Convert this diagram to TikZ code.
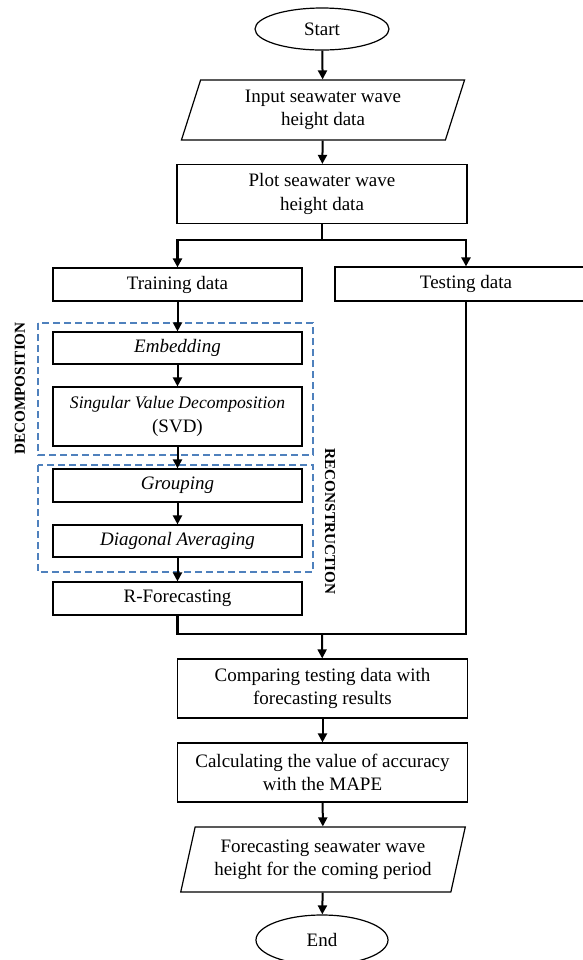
\documentclass[tikz,border=0pt]{standalone}
\usepackage{fontspec}
\setmainfont{Liberation Serif}
\usetikzlibrary{arrows.meta,shapes.geometric}
\definecolor{PhaseBlue}{HTML}{4F81BD}

\begin{document}
\begin{tikzpicture}[
      x=0.5pt,y=-0.5pt,
      every node/.style={font=\fontsize{9.5}{11.7}\selectfont},
      terminal/.style={ellipse,draw,semithick,minimum width=67pt,
        minimum height=21pt,inner sep=0pt},
      process/.style={rectangle,draw,semithick,minimum width=145pt,
        minimum height=29.5pt,align=center,inner sep=0pt},
      branch/.style={rectangle,draw,semithick,minimum width=124.5pt,
        minimum height=16.5pt,align=center,inner sep=0pt},
      substep/.style={branch,font=\fontsize{9.5}{11.7}\selectfont\itshape},
      dataio/.style={trapezium,trapezium left angle=73,
        trapezium right angle=107,trapezium stretches=true,draw,semithick,
        minimum width=142.5pt,minimum height=30pt,align=center,inner sep=0pt},
      flow/.style={-{Triangle[length=4.5pt,width=4.5pt]},line width=1pt},
      trunk/.style={line width=1.4pt},
      phase/.style={draw=PhaseBlue,line width=0.65pt,
        dash pattern=on 3.5pt off 2pt},
      phaselabel/.style={font=\fontsize{7.6}{9}\selectfont\bfseries,
        inner sep=0pt}
    ]
      \useasboundingbox (0,0) rectangle (583,960);

      % dashed phase frames
      \draw[phase] (38,323) rectangle (313,455);
      \draw[phase] (38,465) rectangle (313,572);
      \node[phaselabel,rotate=90] (declabel) at (20,388.5) {DECOMPOSITION};
      \node[phaselabel,rotate=-90] (reclabel) at (330,521.5) {RECONSTRUCTION};

      \node[terminal] (start) at (322,29) {\raisebox{-1pt}{Start}};
      \node[dataio] (input) at (323,110) {Input seawater wave\\height data};
      \node[process] (plot) at (322,194) {Plot seawater wave\\height data};
      \coordinate (split) at (322,240);

      \node[branch] (train) at (177.5,284.5) {Training data};
      \node[branch,minimum width=131pt,minimum height=17pt] (test)
        at (466,284) {Testing data};
      \node[substep,minimum height=16pt] (embed) at (177.5,348) {Embedding};
      \node[branch,minimum height=29.5pt] (svd) at (177.5,416.5)
        {{\fontsize{8.8}{11.7}\selectfont\itshape Singular Value Decomposition}\\(SVD)};
      \node[substep] (group) at (177.5,485.5) {Grouping};
      \node[substep,minimum height=16pt] (diag) at (177.5,541)
        {Diagonal Averaging};
      \node[branch] (rfore) at (177.5,598.5) {R-Forecasting};
      \coordinate (merge) at (322,634);

      \node[process] (compare) at (322.5,688.5)
        {Comparing testing data with\\forecasting results};
      \node[process] (calc) at (322.5,772.5)
        {Calculating the value of accuracy\\with the MAPE};
      \node[dataio,minimum height=32.5pt] (output) at (323,859.5)
        {Forecasting seawater wave\\height for the coming period};
      \node[terminal,minimum width=66pt,minimum height=25pt] (stop)
        at (322,940) {End};

      \draw[flow] (start) -- (input);
      \draw[flow] (input) -- (plot);
      \draw[trunk] (plot) -- (split);
      \draw[flow,trunk] (split) -| (train);
      \draw[flow,trunk] (split) -| (test);
      \draw[flow] (train) -- (embed);
      \draw[flow] (embed) -- (svd);
      \draw[flow] (svd) -- (group);
      \draw[flow] (group) -- (diag);
      \draw[flow] (diag) -- (rfore);
      \draw[trunk] (rfore) |- (merge) -| (test);
      \draw[flow] (merge) -- (compare);
      \draw[flow] (compare) -- (calc);
      \draw[flow] (calc) -- (output);
      \draw[flow] (output) -- (stop);
    \end{tikzpicture}
\end{document}
